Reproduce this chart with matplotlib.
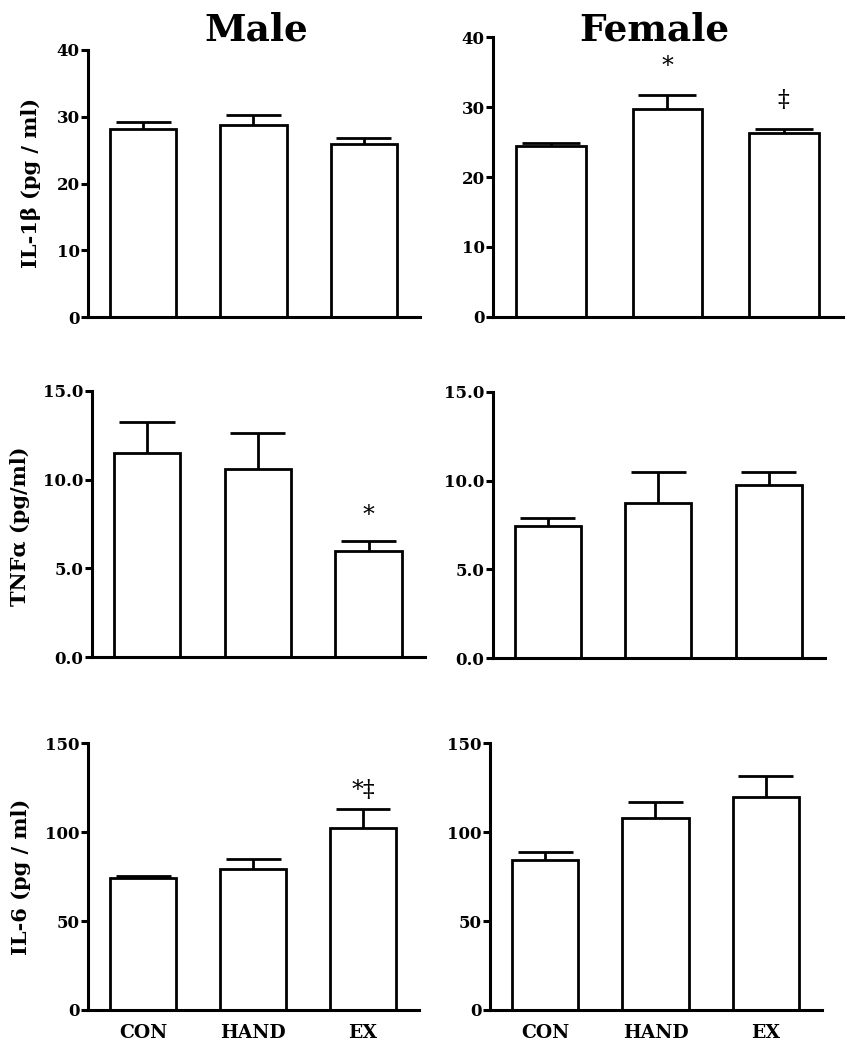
import matplotlib
matplotlib.use("Agg")
import matplotlib.pyplot as plt

groups = ["CON", "HAND", "EX"]

male_il1b = [28.1, 28.8, 25.9]
male_il1b_err = [1.1, 1.5, 0.9]
female_il1b = [24.5, 29.7, 26.3]
female_il1b_err = [0.3, 2.1, 0.6]

male_tnf = [11.47, 10.6, 6.0]
male_tnf_err = [1.75, 2.0, 0.55]
female_tnf = [7.42, 8.75, 9.76]
female_tnf_err = [0.5, 1.73, 0.74]

male_il6 = [74.2, 79.3, 102.2]
male_il6_err = [1.3, 5.5, 10.8]
female_il6 = [84.4, 107.8, 119.6]
female_il6_err = [4.3, 9.0, 12.2]

W, H = 849, 1050
fig = plt.figure(figsize=(W / 100, H / 100), dpi=100)
SERIF = ["DejaVu Serif"]

def make_ax(x0, x1, yt, yb):
    return fig.add_axes([x0 / W, 1 - yb / H, (x1 - x0) / W, (yb - yt) / H])

panels = [
    ((88, 420, 50, 317), male_il1b, male_il1b_err, 40, [0, 10, 20, 30, 40], "{:.0f}", []),
    ((493, 843, 37.3, 316.7), female_il1b, female_il1b_err, 40, [0, 10, 20, 30, 40], "{:.0f}",
     [(1, 35.8, "*"), (2, 31.0, "\u2021")]),
    ((91.7, 425, 390.7, 657.3), male_tnf, male_tnf_err, 15, [0, 5, 10, 15], "{:.1f}",
     [(2, 8.0, "*")]),
    ((492.7, 825, 391.7, 658.3), female_tnf, female_tnf_err, 15, [0, 5, 10, 15], "{:.1f}", []),
    ((88.3, 419, 743.3, 1010), male_il6, male_il6_err, 150, [0, 50, 100, 150], "{:.0f}",
     [(2, 123.7, "*\u2021")]),
    ((490, 822, 743.3, 1010), female_il6, female_il6_err, 150, [0, 50, 100, 150], "{:.0f}", []),
]

x = list(range(len(groups)))
bw = 0.6
for i, (rect, vals, errs, ymax, ticks, fmt, ann) in enumerate(panels):
    ax = make_ax(*rect)
    ax.bar(x, vals, width=bw, color="white", edgecolor="black", linewidth=2.0, zorder=2)
    tops = [v + e for v, e in zip(vals, errs)]
    ax.vlines(x, vals, tops, color="black", linewidth=2.0, zorder=1)
    ax.hlines(tops, [xi - 0.25 for xi in x], [xi + 0.25 for xi in x],
              color="black", linewidth=2.0, zorder=1)
    ax.set_xlim(-0.5, 2.51)
    ax.set_ylim(0, ymax)
    ax.set_yticks(ticks)
    ax.set_yticklabels([fmt.format(t) for t in ticks], fontfamily=SERIF, fontweight="bold", fontsize=12)
    for s in ["top", "right"]:
        ax.spines[s].set_visible(False)
    for s in ["left", "bottom"]:
        ax.spines[s].set_linewidth(2.2)
    ax.tick_params(axis="y", direction="out", length=5, width=2.2, pad=1)
    if i >= 4:
        ax.set_xticks(x)
        ax.set_xticklabels(groups, fontfamily=SERIF, fontweight="bold", fontsize=13.5)
        ax.tick_params(axis="x", length=0, pad=10)
    else:
        ax.set_xticks([])
    for (bx, by, txt) in ann:
        ax.text(bx, by, txt, ha="center", va="center", fontfamily=SERIF, fontsize=17, color="black")

fig.text(256 / W, 1 - 30 / H, "Male", ha="center", va="center", fontfamily=SERIF,
         fontweight="bold", fontsize=27)
fig.text(654 / W, 1 - 30 / H, "Female", ha="center", va="center", fontfamily=SERIF,
         fontweight="bold", fontsize=27)

ylabels = [(31, 183, "IL-1\u03b2 (pg / ml)"), (20, 526, "TNF\u03b1 (pg/ml)"), (21, 877, "IL-6 (pg / ml)")]
for (px, py, t) in ylabels:
    fig.text(px / W, 1 - py / H, t, ha="center", va="center", rotation=90, fontfamily=SERIF,
             fontweight="bold", fontsize=15)

fig.savefig("out.png", dpi=100, facecolor="white")
